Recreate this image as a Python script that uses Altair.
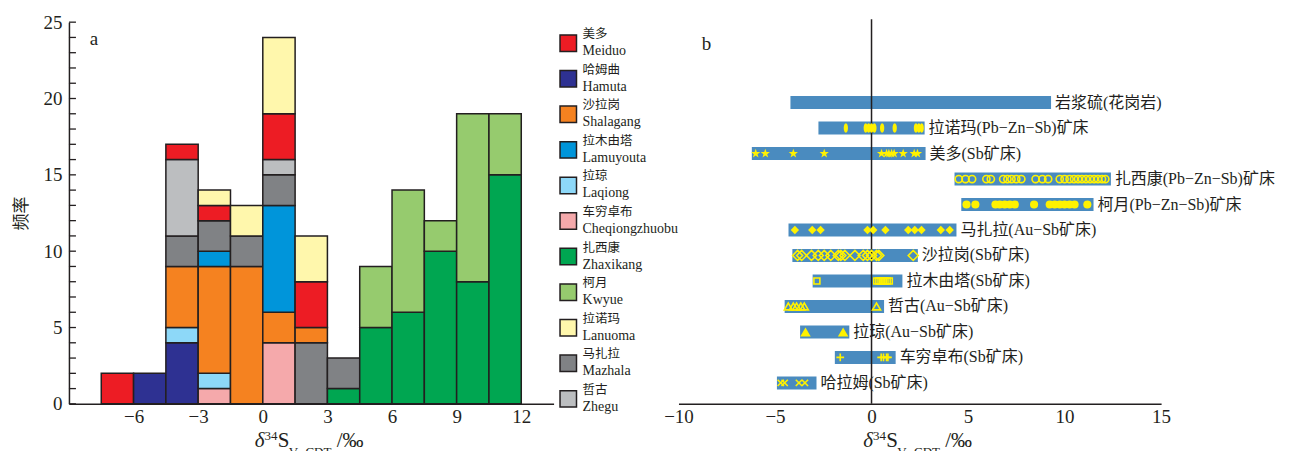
import math
import altair as alt
import pandas as pd

SERIF = "Liberation Serif, Noto Sans CJK SC"
CJK = "Noto Sans CJK SC"
INK = "#231F20"

# ---------------- panel a : stacked histogram ----------------
names_en = ["Meiduo", "Hamuta", "Shalagang", "Lamuyouta", "Laqiong", "Cheqiongzhuobu",
            "Zhaxikang", "Kwyue", "Lanuoma", "Mazhala", "Zhegu"]
names_cn = ["美多", "哈姆曲", "沙拉岗", "拉木由塔", "拉琼", "车穷卓布",
            "扎西康", "柯月", "拉诺玛", "马扎拉", "哲古"]
colors = ["#ED1C24", "#2E3192", "#F58220", "#0095DA", "#8DD8F8", "#F5A9AB",
          "#00A651", "#96CB6E", "#FFF7AC", "#808285", "#BCBEC0"]

bin_lo = [-7.5, -6, -4.5, -3, -1.5, 0, 1.5, 3, 4.5, 6, 7.5, 9, 10.5]
bin_width = 1.5
# segments of every bin, bottom to top
bin_names = [
    ["Meiduo"],
    ["Hamuta"],
    ["Hamuta", "Laqiong", "Shalagang", "Mazhala", "Zhegu", "Meiduo"],
    ["Cheqiongzhuobu", "Laqiong", "Shalagang", "Lamuyouta", "Mazhala", "Meiduo", "Lanuoma"],
    ["Shalagang", "Mazhala", "Lanuoma"],
    ["Cheqiongzhuobu", "Shalagang", "Lamuyouta", "Mazhala", "Zhegu", "Meiduo", "Lanuoma"],
    ["Mazhala", "Shalagang", "Meiduo", "Lanuoma"],
    ["Zhaxikang", "Mazhala"],
    ["Zhaxikang", "Kwyue"],
    ["Zhaxikang", "Kwyue"],
    ["Zhaxikang", "Kwyue"],
    ["Zhaxikang", "Kwyue"],
    ["Zhaxikang", "Kwyue"],
]
bin_counts = [
    [2],
    [2],
    [4, 1, 4, 2, 5, 1],
    [1, 1, 7, 1, 2, 1, 1],
    [9, 2, 2],
    [4, 2, 7, 2, 1, 3, 5],
    [4, 1, 3, 3],
    [1, 2],
    [5, 4],
    [6, 8],
    [10, 2],
    [8, 11],
    [15, 4],
]
y_ticks_a = list(range(0, 26))
x_labels_a = [-6, -3, 0, 3, 6, 9, 12]

rows = []
for lo, nms, cts in zip(bin_lo, bin_names, bin_counts):
    for k, (n, c) in enumerate(zip(nms, cts)):
        rows.append({"lo": lo, "hi": lo + bin_width, "name": n, "count": c, "k": k})
hist = pd.DataFrame(rows)

WA, H = 485, 382
color_scale = alt.Scale(domain=names_en, range=colors)
xa_scale = alt.Scale(domain=[-9, 13.5], nice=False, zero=False)
ya_scale = alt.Scale(domain=[0, 25], nice=False)
ya_axis = alt.Axis(values=[0, 5, 10, 15, 20, 25], ticks=False, grid=False, title="频率",
                   titleFont=CJK, titleFontSize=17, titleFontWeight="normal",
                   titleColor=INK, titlePadding=12, labelPadding=7)
xa_axis = alt.Axis(values=x_labels_a, ticks=False, grid=False, title=None, labelPadding=4,
                   labelFlush=False)

bars_a = alt.Chart(hist).transform_stack(
    stack="count", groupby=["lo"], as_=["y0", "y1"], sort=[alt.SortField("k", order="ascending")]
).mark_bar(stroke=INK, strokeWidth=1.5, opacity=1).encode(
    x=alt.X("lo:Q", scale=xa_scale, axis=xa_axis),
    x2="hi:Q",
    y=alt.Y("y0:Q", scale=ya_scale, axis=ya_axis),
    y2="y1:Q",
    color=alt.Color("name:N", scale=color_scale, legend=None),
)
ticks_a = alt.Chart(pd.DataFrame({"y0": y_ticks_a})).mark_rule(color=INK, strokeWidth=1.3).encode(
    y=alt.Y("y0:Q", scale=ya_scale, axis=ya_axis),
    x=alt.value(0), x2=alt.value(7),
)
label_a = alt.Chart(pd.DataFrame({"t": ["a"]})).mark_text(
    font="Liberation Serif", fontSize=19, align="center", baseline="middle", color=INK
).encode(text="t:N", x=alt.value(25), y=alt.value(17))


def title_layers(center):
    pieces = [
        ("δ", -56.5, 425, 21, "italic"),
        ("34", -46.8, 418, 13, "normal"),
        ("S", -33.5, 425, 21, "normal"),
        ("V−CDT", -22.5, 434, 13, "normal"),
        ("/‰", 25.5, 425, 21, "normal"),
    ]
    out = []
    for txt, dx, y, fs, st in pieces:
        out.append(alt.Chart(pd.DataFrame({"t": [txt]})).mark_text(
            font="Liberation Serif", fontSize=fs, fontStyle=st, align="left",
            baseline="alphabetic", color=INK
        ).encode(text="t:N", x=alt.value(center + dx), y=alt.value(y)))
    return out


panel_a = alt.layer(bars_a, ticks_a, label_a, *title_layers(WA / 2)).properties(width=WA, height=H)

# ---------------- legend ----------------
leg_df = pd.DataFrame({"name": names_en, "cn": names_cn})
leg_y = alt.Scale(type="point", domain=names_en, range=[21, 377], padding=0)
leg_sq = alt.Chart(leg_df).mark_square(size=272, opacity=1, stroke=INK, strokeWidth=1.5).encode(
    x=alt.value(14.7),
    y=alt.Y("name:N", scale=leg_y, axis=None),
    color=alt.Color("name:N", scale=color_scale, legend=None),
)
leg_cn = alt.Chart(leg_df).mark_text(font=CJK, fontSize=12.5, align="left", baseline="middle",
                                     dy=-9, color=INK).encode(
    x=alt.value(29), y=alt.Y("name:N", scale=leg_y, axis=None), text="cn:N")
leg_en = alt.Chart(leg_df).mark_text(font="Liberation Serif", fontSize=14, align="left",
                                     baseline="middle", dy=8, color=INK).encode(
    x=alt.value(29), y=alt.Y("name:N", scale=leg_y, axis=None), text="name:N")
legend = alt.layer(leg_sq, leg_cn, leg_en).properties(width=125, height=H)

# ---------------- panel b : ranges ----------------
row_labels = ["岩浆硫(花岗岩)", "拉诺玛(Pb−Zn−Sb)矿床", "美多(Sb矿床)", "扎西康(Pb−Zn−Sb)矿床",
              "柯月(Pb−Zn−Sb)矿床", "马扎拉(Au−Sb矿床)", "沙拉岗(Sb矿床)", "拉木由塔(Sb矿床)",
              "哲古(Au−Sb矿床)", "拉琼(Au−Sb矿床)", "车穷卓布(Sb矿床)", "哈拉姆(Sb矿床)"]
range_lo = [-4.2, -2.75, -6.2, 4.3, 4.65, -4.3, -4.1, -3.05, -4.5, -3.7, -1.9, -4.9]
range_hi = [9.3, 2.75, 2.8, 12.4, 11.5, 4.4, 2.4, 1.6, 0.65, -1.15, 1.25, -2.85]

lanuoma = [-1.33, -0.3, -0.15, 0.0, 0.15, 0.55, 1.2, 2.3, 2.45, 2.6]
meiduo = [-6.0, -5.5, -4.05, -2.45, 0.52, 0.78, 0.9, 1.04, 1.17, 1.64, 2.21, 2.38]
zhaxikang = [4.52, 4.87, 5.21, 5.95, 6.18, 6.82, 7.04, 7.25, 7.5, 7.76, 8.5, 8.85, 9.15,
             9.75, 10.0, 10.26, 10.49, 10.7, 10.9, 11.11, 11.32, 11.53, 11.73, 11.94, 12.11]
kwyue = [4.92, 5.38, 6.42, 6.64, 6.9, 7.16, 7.42, 8.42, 9.23, 9.49, 9.75, 10.0, 10.26, 10.52, 11.18]
mazhala = [-3.97, -3.07, -2.64, -0.21, 0.09, 0.72, 1.9, 2.24, 2.59, 3.59, 4.05]
shalagang = [-3.83, -3.62, -3.11, -2.76, -2.45, -2.11, -1.72, -1.59, -1.38, -0.86,
             -0.43, -0.21, 0.0, 0.26, 0.38, 2.16]
lamuyouta = [-2.83, 0.27, 0.38, 0.49, 0.6, 0.7, 0.81, 0.92]
zhegu = [-4.31, -4.05, -3.88, -3.66, -3.48, 0.26]
laqiong = [-3.42, -1.47]
cheqiong = [-1.62, 0.5, 0.62, 0.78, 0.85]
hamuta = [-4.7, -4.5, -3.76, -3.45]
x_labels_b = [-10, -5, 0, 5, 10, 15]

pts = []
for i in range(10):
    ang = -math.pi / 2 + i * math.pi / 5
    r = 1.0 if i % 2 == 0 else 0.4
    pts.append(f"{r * math.cos(ang):.3f},{r * math.sin(ang):.3f}")
STAR = "M" + "L".join(pts) + "Z"
ELLIPSE = "M0,-1C0.6,-1 0.6,1 0,1C-0.6,1 -0.6,-1 0,-1Z"
PLUS = "M-1,0L1,0M0,-1L0,1"
XMARK = "M-1,-1L1,1M-1,1L1,-1"

# (row index, values, shape, filled, size)
marker_sets = [
    (1, lanuoma, ELLIPSE, True, 90),
    (2, meiduo, STAR, True, 95),
    (3, zhaxikang, "circle", False, 52),
    (4, kwyue, "circle", True, 66),
    (5, mazhala, "diamond", True, 70),
    (6, shalagang, "diamond", False, 100),
    (7, lamuyouta, "square", False, 36),
    (8, zhegu, "triangle-up", False, 64),
    (9, laqiong, "triangle-up", True, 110),
    (10, cheqiong, PLUS, False, 60),
    (11, hamuta, XMARK, False, 40),
]

WB = 483
xb_scale = alt.Scale(domain=[-10, 15], nice=False, zero=False)
yb_scale = alt.Scale(type="point", domain=row_labels, range=[80.5, 361], padding=0)
xb_axis = alt.Axis(values=x_labels_b, ticks=False, grid=False, title=None, labelPadding=4,
                   labelFlush=False)

rng = pd.DataFrame({"row": row_labels, "lo": range_lo, "hi": range_hi})
bars_b = alt.Chart(rng).mark_bar(size=13, color="#4A8BBF").encode(
    x=alt.X("lo:Q", scale=xb_scale, axis=xb_axis),
    x2="hi:Q",
    y=alt.Y("row:N", scale=yb_scale, axis=None),
)
text_b = alt.Chart(rng).mark_text(font=SERIF, fontSize=16, align="left", baseline="middle",
                                  dx=4, color=INK).encode(
    x=alt.X("hi:Q", scale=xb_scale, axis=xb_axis),
    y=alt.Y("row:N", scale=yb_scale, axis=None),
    text="row:N",
)
zero_rule = alt.Chart(pd.DataFrame({"v": [0]})).mark_rule(color=INK, strokeWidth=1.5).encode(
    x=alt.X("v:Q", scale=xb_scale, axis=xb_axis), y=alt.value(-3), y2=alt.value(H))

marker_layers = []
for idx, vals, shape, filled, size in marker_sets:
    df = pd.DataFrame({"row": [row_labels[idx]] * len(vals), "v": vals})
    if filled:
        mk = alt.Chart(df).mark_point(shape=shape, filled=True, size=size, color="#FFF200",
                                      opacity=1, strokeWidth=0)
    else:
        mk = alt.Chart(df).mark_point(shape=shape, filled=False, size=size, color="#FFF200",
                                      opacity=1, strokeWidth=1.6)
    marker_layers.append(mk.encode(
        x=alt.X("v:Q", scale=xb_scale, axis=xb_axis),
        y=alt.Y("row:N", scale=yb_scale, axis=None),
    ))

label_b = alt.Chart(pd.DataFrame({"t": ["b"]})).mark_text(
    font="Liberation Serif", fontSize=19, align="center", baseline="middle", color=INK
).encode(text="t:N", x=alt.value(28), y=alt.value(22))

panel_b = alt.layer(bars_b, zero_rule, *marker_layers, text_b, label_b,
                    *title_layers(WB / 2)).properties(width=WB, height=H)

chart = alt.hconcat(panel_a, legend, panel_b, spacing=0, bounds="flush").properties(
    padding={"left": 5, "top": 5, "right": 5, "bottom": 0}
).configure_view(strokeWidth=0).configure_axis(
    labelFont="Liberation Serif", labelFontSize=19, labelColor=INK,
    domainColor=INK, domainWidth=1.5,
)

chart.save("out.html", embed_options={"renderer": "svg", "actions": False})
